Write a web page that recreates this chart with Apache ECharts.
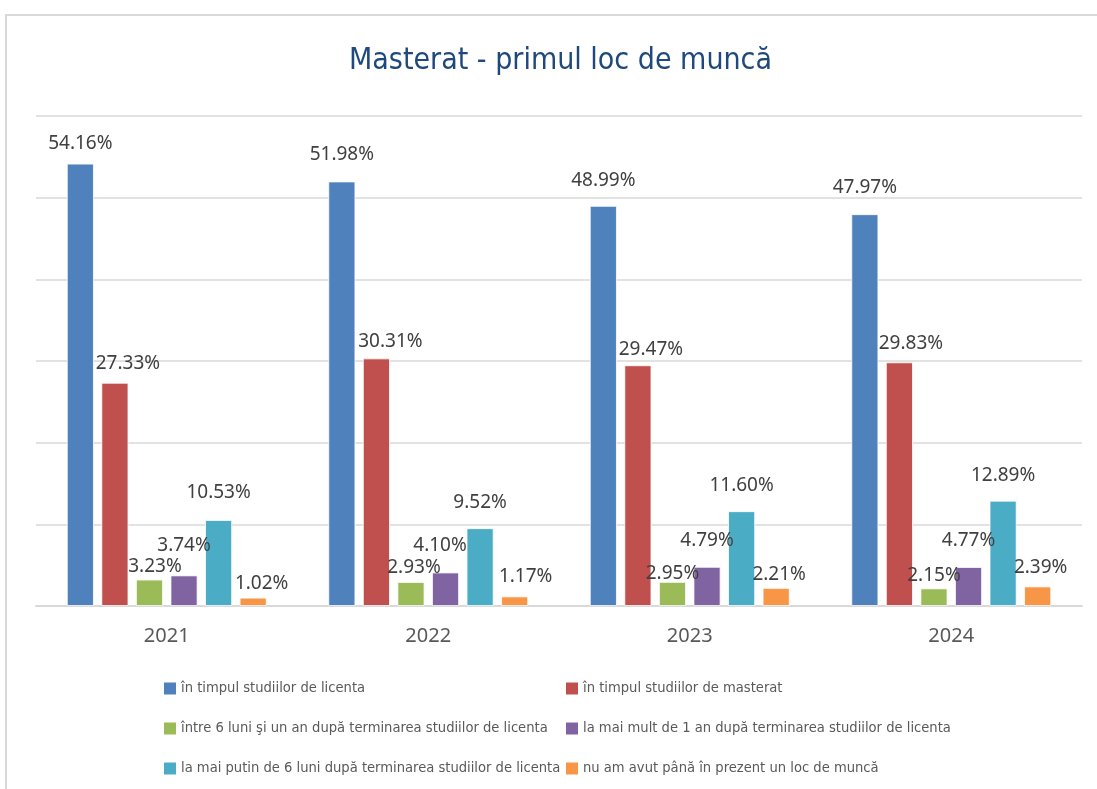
<!DOCTYPE html>
<html>
<head>
<meta charset="utf-8">
<script src="https://cdn.jsdelivr.net/npm/echarts@6/dist/echarts.min.js"></script>
<style>
html, body { margin: 0; padding: 0; background: #fff; }
#chart { width: 1097px; height: 789px; }
</style>
</head>
<body>
<div id="chart"></div>
<script>
// date
var years = ['2021', '2022', '2023', '2024'];
var seriesNames = [
	'în timpul studiilor de licenta',
	'în timpul studiilor de masterat',
	'între 6 luni şi un an după terminarea studiilor de licenta',
	'la mai mult de 1 an după terminarea studiilor de licenta',
	'la mai putin de 6 luni după terminarea studiilor de licenta',
	'nu am avut până în prezent un loc de muncă'
];
var licenta = [54.16, 51.98, 48.99, 47.97];
var masterat = [27.33, 30.31, 29.47, 29.83];
var intre6luniSiUnAn = [3.23, 2.93, 2.95, 2.15];
var peste1An = [3.74, 4.10, 4.79, 4.77];
var sub6Luni = [10.53, 9.52, 11.60, 12.89];
var faraLoc = [1.02, 1.17, 2.21, 2.39];
var yTicks = [0, 10, 20, 30, 40, 50, 60];

var colors = ['#4F81BD', '#C0504D', '#9BBB59', '#8064A2', '#4BACC6', '#F79646'];
var allValues = [licenta, masterat, intre6luniSiUnAn, peste1An, sub6Luni, faraLoc];

// deplasari etichete (dx, distanta deasupra barei) - ca in Excel
var labelNudge = [
	[[0, 20], [0, 26.5], [0, 25], [0, 27]],
	[[13, 19], [14, 17], [13, 15.5], [11.5, 18.7]],
	[[5.5, 13], [3, 14.5], [0, 8], [0, 13]],
	[[0, 30], [-5.5, 26.5], [0, 26], [0, 26.5]],
	[[0, 27], [0, 25.5], [0, 26], [0, 25.5]],
	[[8.5, 14.5], [11, 20], [3, 13], [3, 18.5]]
];

var dom = document.getElementById('chart');
var myChart = echarts.init(dom);

var series = allValues.map(function(vals, i) {
	return {
		name: seriesNames[i],
		type: 'bar',
		barWidth: 27,
		barGap: '28%',
		itemStyle: { color: colors[i], borderColor: '#fff', borderWidth: 0.8 },
		label: {
			show: true,
			position: 'top',
			distance: 0,
			fontFamily: 'Noto Sans',
			fontSize: 19,
			color: '#404040',
			formatter: function(p) { return p.value.toFixed(2) + '%'; }
		},
		data: vals.map(function(v, j) {
			var n = labelNudge[i][j];
			return { value: v, label: { offset: [n[0], 9.5 - n[1]] } };
		})
	};
});

var narrow = 'Liberation Sans Narrow, DejaVu Sans Condensed, sans-serif';
var legendText = { fontFamily: narrow, fontSize: 14.6, color: '#595959' };

option = {
	backgroundColor: '#fff',
	animation: false,
	title: {
		text: 'Masterat - primul loc de muncă',
		left: 344,
		top: 41,
		textStyle: { fontFamily: narrow, fontSize: 30, fontWeight: 'normal', color: '#1F497D' }
	},
	graphic: [{
		type: 'rect',
		shape: { x: 6, y: 15, width: 1300, height: 900 },
		style: { fill: 'none', stroke: '#d9d9d9', lineWidth: 2 },
		silent: true
	}],
	legend: [{
		orient: 'vertical',
		left: 164,
		top: 681,
		padding: 0,
		itemWidth: 12,
		itemHeight: 12,
		itemGap: 25,
		itemStyle: { borderWidth: 0 },
		icon: 'rect',
		textStyle: legendText,
		data: [seriesNames[0], seriesNames[2], seriesNames[4]]
	}, {
		orient: 'vertical',
		left: 566,
		top: 681,
		padding: 0,
		itemWidth: 12,
		itemHeight: 12,
		itemGap: 25,
		itemStyle: { borderWidth: 0 },
		icon: 'rect',
		textStyle: legendText,
		data: [seriesNames[1], seriesNames[3], seriesNames[5]]
	}],
	grid: {
		left: 36,
		right: 15,
		top: 116,
		bottom: 183
	},
	xAxis: {
		type: 'category',
		data: years,
		axisTick: { show: false },
		axisLine: { lineStyle: { color: '#d9d9d9', width: 2 } },
		axisLabel: { fontFamily: 'Noto Sans', fontSize: 20, color: '#595959', margin: 20 }
	},
	yAxis: {
		type: 'value',
		min: yTicks[0],
		max: yTicks[yTicks.length - 1],
		interval: 10,
		axisLabel: { show: false },
		axisLine: { show: false },
		axisTick: { show: false },
		splitLine: { lineStyle: { color: '#d9d9d9', width: 1.5 } }
	},
	series: series
};

if (option && typeof option === 'object') {
	myChart.setOption(option, true);
}
</script>
</body>
</html>
